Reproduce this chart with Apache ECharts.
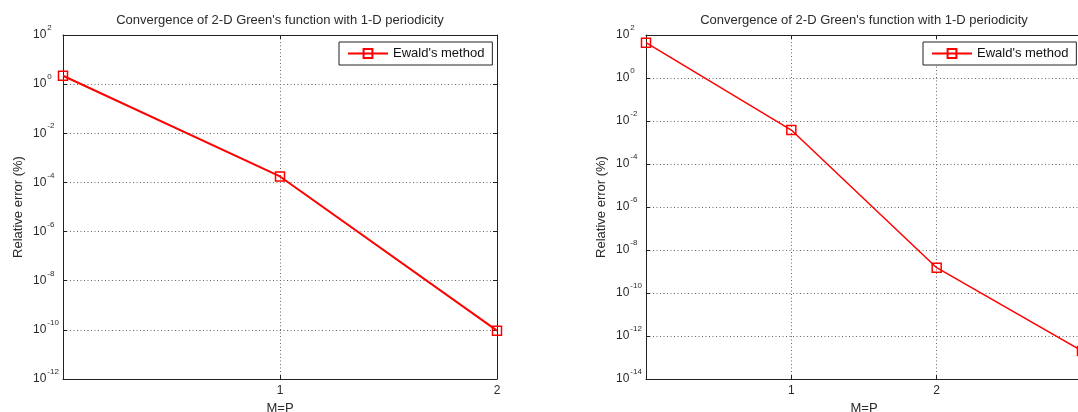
<!DOCTYPE html>
<html>
<head>
<meta charset="utf-8">
<script src="https://cdn.jsdelivr.net/npm/echarts@6/dist/echarts.min.js"></script>
<style>
  html, body { margin: 0; padding: 0; background: #fff; }
  #chart { width: 1078px; height: 412px; }
</style>
</head>
<body>
<div id="chart"></div>
<script>
// Texts
const titleText = "Convergence of 2-D Green's function with 1-D periodicity";
const seriesName = "Ewald's method";
const xLabel = 'M=P';
const yLabel = 'Relative error (%)';

// Left panel: truncation order M=P vs relative error (%)
const mpLeft = [0, 1, 2];
const errLeft = [2.2, 1.75e-4, 9.3e-11];
const yRangeLeft = [1e-12, 1e2];
const xRangeLeft = [0, 2];

// Right panel
const mpRight = [0, 1, 2, 3];
const errRight = [44, 3.8e-3, 1.5e-9, 2.0e-13];
const yRangeRight = [1e-14, 1e2];
const xRangeRight = [0, 3];

// Tick labels shown along the M=P axis (0 is left unlabeled)
const xTickLabels = ['1', '2', '3'];

const FONT = "'Liberation Sans', Arial, sans-serif";
const AXIS_COLOR = '#222';
const TEXT_COLOR = '#2a2a2a';
const RED = '#ff0000';

function pairs(xs, ys) { return xs.map((x, i) => [x, ys[i]]); }

function bottomX(gridIndex, range) {
  return {
    type: 'value', gridIndex, position: 'bottom',
    min: range[0], max: range[1], interval: 1,
    name: xLabel, nameLocation: 'middle', nameGap: 20,
    nameTextStyle: { fontFamily: FONT, fontSize: 13, color: TEXT_COLOR },
    axisLine: { onZero: false, lineStyle: { color: AXIS_COLOR, width: 1 } },
    axisTick: { inside: true, length: 4, lineStyle: { color: AXIS_COLOR } },
    axisLabel: {
      margin: 6, fontFamily: FONT, fontSize: 12, color: TEXT_COLOR,
      formatter: v => (v >= 1 && v <= xTickLabels.length) ? xTickLabels[v - 1] : ''
    },
    splitLine: { show: true, lineStyle: { color: '#666', width: 1, type: [1, 2.5] } }
  };
}

function topX(gridIndex, range) {
  return {
    type: 'value', gridIndex, position: 'top',
    min: range[0], max: range[1], interval: 1,
    name: titleText, nameLocation: 'middle', nameGap: 8,
    nameTextStyle: { fontFamily: FONT, fontSize: 13, color: TEXT_COLOR },
    axisLine: { onZero: false, lineStyle: { color: AXIS_COLOR, width: 1 } },
    axisTick: { inside: true, length: 4, lineStyle: { color: AXIS_COLOR } },
    axisLabel: { show: false },
    splitLine: { show: false }
  };
}

// "10" followed by a raised exponent
function logLabel(v) {
  const e = Math.round(Math.log10(v));
  return '{b|10}{s|' + e + '}';
}

function leftY(gridIndex, range) {
  return {
    type: 'log', logBase: 10, gridIndex, position: 'left',
    min: range[0], max: range[1], interval: 2,
    splitNumber: Math.round(Math.log10(range[1] / range[0]) / 2),
    name: yLabel, nameLocation: 'middle', nameGap: 38, nameRotate: 90,
    nameTextStyle: { fontFamily: FONT, fontSize: 13, color: TEXT_COLOR },
    axisLine: { onZero: false, lineStyle: { color: AXIS_COLOR, width: 1 } },
    axisTick: { inside: true, length: 4, lineStyle: { color: AXIS_COLOR } },
    axisLabel: {
      margin: 30, align: 'left', formatter: logLabel,
      rich: {
        b: { fontFamily: FONT, fontSize: 12, lineHeight: 12, padding: [7, 0, 7, 0], color: TEXT_COLOR },
        s: { fontFamily: FONT, fontSize: 8, lineHeight: 8, padding: [0, 0, 14, 1], color: TEXT_COLOR }
      }
    },
    minorTick: { show: false },
    splitLine: { show: true, lineStyle: { color: '#666', width: 1, type: [1, 2.5] } }
  };
}

function rightY(gridIndex, range) {
  return {
    type: 'log', logBase: 10, gridIndex, position: 'right',
    min: range[0], max: range[1], interval: 2,
    splitNumber: Math.round(Math.log10(range[1] / range[0]) / 2),
    axisLine: { onZero: false, lineStyle: { color: AXIS_COLOR, width: 1 } },
    axisTick: { inside: true, length: 4, lineStyle: { color: AXIS_COLOR } },
    axisLabel: { show: false },
    splitLine: { show: false }
  };
}

function ewaldSeries(idx, xs, ys, width) {
  return {
    name: seriesName, type: 'line',
    xAxisIndex: idx, yAxisIndex: idx,
    data: pairs(xs, ys),
    symbol: 'rect', symbolSize: 9, showSymbol: true,
    itemStyle: { color: 'rgba(255,255,255,0)', borderColor: RED, borderWidth: 1.5 },
    lineStyle: { color: RED, width: width },
    emphasis: { disabled: true },
    animation: false,
    clip: false
  };
}

function legendAt(left) {
  return {
    left: left, top: 42, orient: 'horizontal',
    data: [seriesName], selectedMode: false,
    backgroundColor: '#fff', borderColor: '#222', borderWidth: 1, borderRadius: 0,
    padding: [5, 8, 5, 8],
    itemWidth: 40, itemHeight: 11, itemGap: 5,
    textStyle: { fontFamily: FONT, fontSize: 13, color: '#111' }
  };
}

const chart = echarts.init(document.getElementById('chart'), null, { renderer: 'canvas' });
chart.setOption({
  backgroundColor: '#fff',
  animation: false,
  grid: [
    { left: 63, top: 35, width: 434, height: 344, containLabel: false, outerBoundsMode: 'none' },
    { left: 646, top: 35, width: 436, height: 344, containLabel: false, outerBoundsMode: 'none' }
  ],
  xAxis: [
    bottomX(0, xRangeLeft), topX(0, xRangeLeft),
    bottomX(1, xRangeRight), topX(1, xRangeRight)
  ],
  yAxis: [
    leftY(0, yRangeLeft), rightY(0, yRangeLeft),
    leftY(1, yRangeRight), rightY(1, yRangeRight)
  ],
  legend: [legendAt(339), legendAt(923)],
  series: [
    ewaldSeries(0, mpLeft, errLeft, 2),
    ewaldSeries(2, mpRight, errRight, 1.5)
  ]
});
</script>
</body>
</html>
